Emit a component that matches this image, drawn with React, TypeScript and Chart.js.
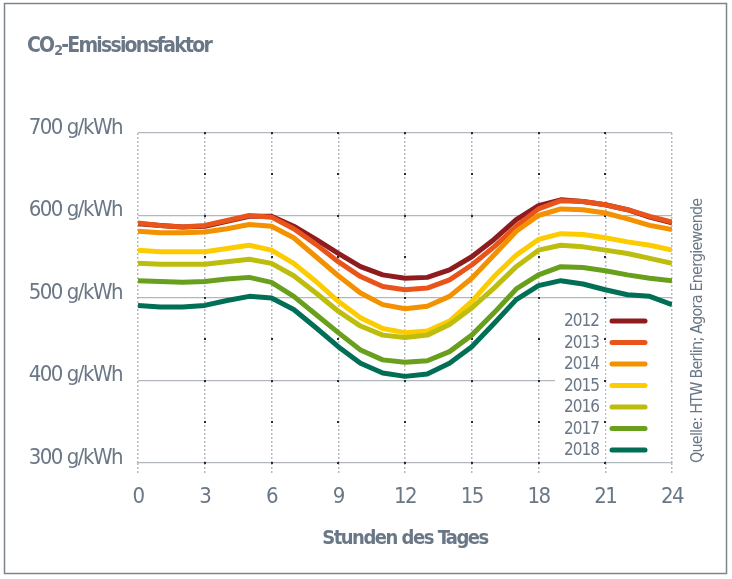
import { useEffect, useRef } from "react";
import { Chart, registerables } from "chart.js";

Chart.register(...registerables);

// ---------- data ----------
const hours = [0, 1, 2, 3, 4, 5, 6, 7, 8, 9, 10, 11, 12, 13, 14, 15, 16, 17, 18, 19, 20, 21, 22, 23, 24];
const years = ["2012", "2013", "2014", "2015", "2016", "2017", "2018"];
const y2012 = [590, 588, 586, 587, 593, 599, 599, 587, 571, 554, 538, 528, 524, 525, 534, 550, 571, 595, 612, 619, 617, 613, 607, 598, 591];
const y2013 = [591, 588, 586, 588, 594, 600, 598, 584, 565, 544, 526, 514, 510, 512, 522, 540, 562, 587, 608, 618, 617, 613, 607, 599, 592];
const y2014 = [581, 579, 579, 580, 584, 589, 587, 573, 550, 527, 506, 492, 487, 490, 502, 524, 552, 581, 600, 608, 607, 603, 596, 588, 583];
const y2015 = [558, 556, 556, 556, 560, 564, 558, 542, 520, 496, 476, 463, 458, 460, 472, 496, 526, 552, 571, 578, 577, 573, 568, 564, 558];
const y2016 = [542, 541, 541, 541, 544, 547, 542, 527, 506, 484, 466, 455, 452, 455, 468, 488, 512, 538, 558, 564, 562, 558, 554, 548, 542];
const y2017 = [521, 520, 519, 520, 523, 525, 519, 502, 480, 458, 437, 425, 422, 424, 435, 455, 482, 511, 528, 538, 537, 533, 528, 524, 521];
const y2018 = [491, 489, 489, 491, 497, 502, 500, 486, 464, 441, 421, 409, 405, 408, 421, 441, 469, 498, 515, 521, 517, 510, 504, 502, 492];
const seriesValues = [y2012, y2013, y2014, y2015, y2016, y2017, y2018];
const seriesColors = ["#8e1b1e", "#e9541a", "#f39100", "#fdcc00", "#bcbd0c", "#689f1d", "#006f56"];

const yMin = 300;
const yMax = 700;
const yStep = 100;
const xStep = 3;
const unitLabel = " g/kWh";
const titleMain = "CO";
const titleSub = "2";
const titleRest = "-Emissionsfaktor";
const xTitle = "Stunden des Tages";
const sourceText = "Quelle: HTW Berlin; Agora Energiewende";

// ---------- style ----------
const FONT = "'DejaVu Sans Condensed', 'DejaVu Sans', sans-serif";
const TEXT = "#6a7786";
const GRID_V = "#b5bac0";
const GRID_H = "#b3b8be";
const AXIS_SPACING = "-1.5px";

const setSpacing = (ctx: any, v: string) => {
  if (ctx && "letterSpacing" in ctx) ctx.letterSpacing = v;
};

const decorPlugin = {
  id: "decor",
  beforeLayout(chart: any) {
    setSpacing(chart.ctx, AXIS_SPACING);
  },
  beforeDraw(chart: any) {
    setSpacing(chart.ctx, AXIS_SPACING);
  },
  beforeDatasetsDraw(chart: any) {
    const { ctx, scales } = chart;
    const x = scales.x;
    const y = scales.y;
    ctx.save();
    // legend background (hides horizontal grid, keeps dotted verticals)
    const x21 = x.getPixelForValue(21);
    const x24 = x.getPixelForValue(24);
    const boxTop = 306;
    const boxBottom = y.getPixelForValue(yMin) - 1.5;
    ctx.fillStyle = "#ffffff";
    ctx.fillRect(555, boxTop, x21 - 1.2 - 555, boxBottom - boxTop);
    ctx.fillRect(x21 + 1.2, boxTop, x24 - 1.2 - (x21 + 1.2), boxBottom - boxTop);
    // small dark marks on grid intersections
    ctx.fillStyle = "#2a2a2a";
    for (let h = xStep; h < 24; h += xStep) {
      for (let v = yMin; v <= yMax; v += 50) {
        const px = x.getPixelForValue(h);
        const py = y.getPixelForValue(v);
        ctx.fillRect(Math.round(px) - 1, Math.round(py) - 1, 2, 2);
      }
    }
    ctx.restore();
  },
  afterDraw(chart: any) {
    const { ctx } = chart;
    ctx.save();
    // title
    ctx.fillStyle = TEXT;
    ctx.textBaseline = "alphabetic";
    ctx.textAlign = "left";
    setSpacing(ctx, "-1.8px");
    ctx.font = `bold 21px ${FONT}`;
    let tx = 27;
    const ty = 52;
    ctx.fillText(titleMain, tx, ty);
    tx += ctx.measureText(titleMain).width;
    ctx.font = `bold 14px ${FONT}`;
    ctx.fillText(titleSub, tx + 1, ty + 3);
    tx += ctx.measureText(titleSub).width + 1;
    ctx.font = `bold 21px ${FONT}`;
    ctx.fillText(titleRest, tx, ty);

    // legend
    setSpacing(ctx, "-1px");
    ctx.font = `17px ${FONT}`;
    ctx.textAlign = "right";
    ctx.textBaseline = "middle";
    years.forEach((yr, i) => {
      const rowY = 321 + i * 21.5;
      ctx.fillStyle = TEXT;
      ctx.fillText(yr, 599, rowY + 1);
      ctx.strokeStyle = seriesColors[i];
      ctx.lineWidth = 5;
      ctx.lineCap = "round";
      ctx.beginPath();
      ctx.moveTo(612, rowY);
      ctx.lineTo(645, rowY);
      ctx.stroke();
    });

    // source (vertical)
    ctx.save();
    ctx.translate(698, 463);
    ctx.rotate(-Math.PI / 2);
    ctx.textAlign = "left";
    ctx.textBaseline = "middle";
    ctx.fillStyle = TEXT;
    setSpacing(ctx, "-0.8px");
    ctx.font = `16px ${FONT}`;
    ctx.fillText(sourceText, 0, 0);
    ctx.restore();

    // outer frame
    ctx.strokeStyle = "#7d848b";
    ctx.lineWidth = 1.5;
    ctx.strokeRect(4.5, 3.5, 722, 570);
    ctx.restore();
  },
};

export default function App() {
  const canvasRef = useRef<HTMLCanvasElement | null>(null);

  useEffect(() => {
    if (!canvasRef.current) return;
    Chart.defaults.font.family = FONT;
    const chart = new Chart(canvasRef.current, {
      type: "line",
      data: {
        datasets: years.map((yr, i) => ({
          label: yr,
          data: hours.map((h, j) => ({ x: h, y: seriesValues[i][j] })),
          borderColor: seriesColors[i],
          backgroundColor: seriesColors[i],
          borderWidth: 5,
          pointRadius: 0,
          tension: 0,
          fill: false,
          order: years.length - 1 - i,
        })),
      },
      options: {
        animation: false,
        responsive: false,
        events: [],
        layout: { padding: { left: 0, right: 60, top: 133, bottom: 0 } },
        elements: { line: { borderJoinStyle: "round", borderCapStyle: "butt" } },
        plugins: {
          legend: { display: false },
          tooltip: { enabled: false },
          title: { display: false },
        },
        scales: {
          x: {
            type: "linear",
            min: 0,
            max: 24,
            ticks: {
              stepSize: xStep,
              padding: 9,
              color: TEXT,
              font: { size: 22, family: FONT },
              maxRotation: 0,
            },
            grid: {
              color: GRID_V,
              lineWidth: 1.5,
              tickLength: 12,
              tickColor: GRID_V,
              tickBorderDash: [2, 2],
              drawOnChartArea: true,
            },
            border: { display: false, dash: [2, 2] },
            title: {
              display: true,
              text: xTitle,
              color: TEXT,
              font: { size: 20, weight: "bold", family: FONT },
              padding: { top: 0, bottom: 28 },
            },
            afterFit(scale: any) {
              scale.height = 116;
            },
          },
          y: {
            min: yMin,
            max: yMax,
            ticks: {
              stepSize: yStep,
              padding: 16,
              labelOffset: -5,
              color: TEXT,
              font: { size: 22, family: FONT },
              callback: (v: any) => `${v}${unitLabel}`,
            },
            grid: { color: GRID_H, lineWidth: 1.2, drawTicks: false },
            border: { display: false },
            afterFit(scale: any) {
              scale.width = 138;
            },
          },
        },
      },
      plugins: [decorPlugin],
    } as any);
    return () => chart.destroy();
  }, []);

  return (
    <div style={{ position: "absolute", left: 0, top: 0, width: 732, height: 579, background: "#fff" }}>
      <canvas ref={canvasRef} width={732} height={579} style={{ display: "block", width: 732, height: 579 }} />
    </div>
  );
}
